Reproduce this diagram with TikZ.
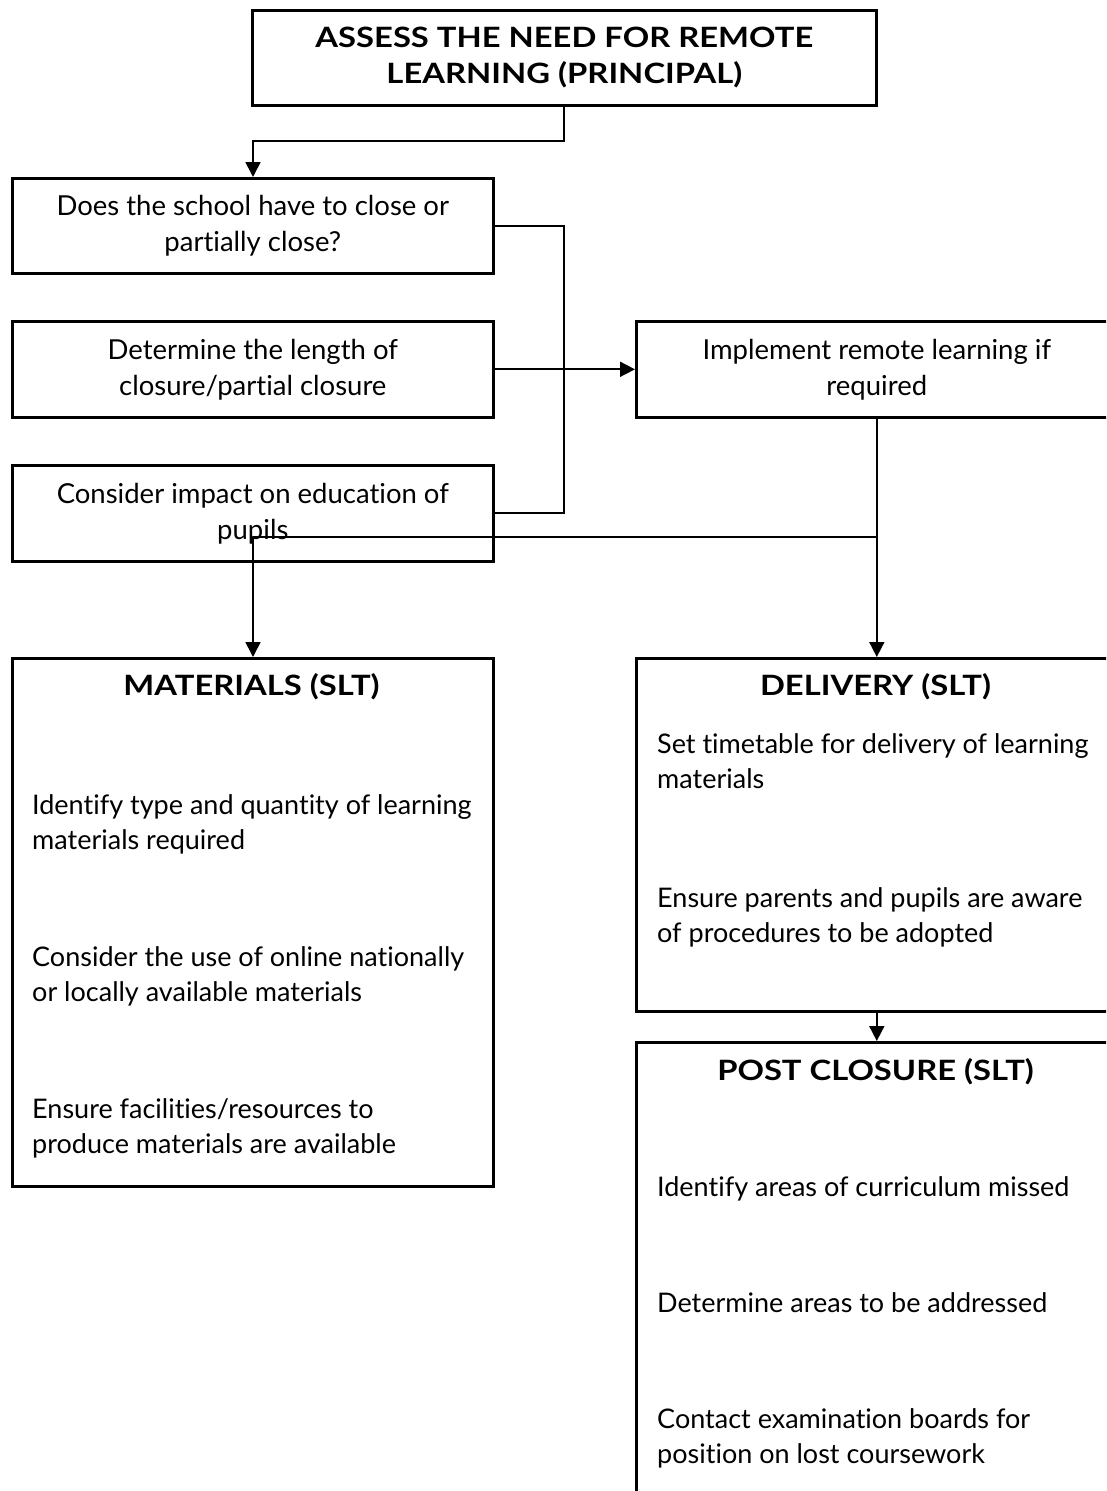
\documentclass[tikz,border=0pt]{standalone}
\usepackage{fontspec}
\setmainfont{Lato}[Ligatures={NoCommon}]
\newfontfamily\ttlfont[FakeStretch=1.17,Ligatures={NoCommon}]{Lato}
\usetikzlibrary{arrows.meta}
\begin{document}
\begin{tikzpicture}[x=1pt,y=-1pt,
  box/.style={draw,line width=2.6pt,rectangle,inner sep=0pt,anchor=north west,
    minimum width=481pt,minimum height=96pt,align=center,
    font=\fontsize{27.5}{36}\selectfont},
  conn/.style={line width=1.7pt},
  arr/.style={conn,-{Triangle[length=15pt,width=15pt]}},
  body/.style={font=\fontsize{27}{35}\selectfont,inner sep=0pt,anchor=base west,align=left},
  ttl/.style={font=\ttlfont\bfseries\fontsize{28}{36}\selectfont,inner sep=0pt,anchor=base}]
\useasboundingbox (0,0) rectangle (1106,1491);
\clip (0,0) rectangle (1106,1491);
% boxes
\node[box,minimum width=624pt,minimum height=95pt,font=\ttlfont\bfseries\fontsize{28}{36}\selectfont] (top) at (251,9)
  {ASSESS THE NEED FOR REMOTE\\LEARNING (PRINCIPAL)};
\node[box,minimum height=95pt] (b1) at (11,177) {Does the school have to close or\\partially close?};
\node[box] (b2) at (11,320) {Determine the length of\\closure/partial closure};
\node[box] (b3) at (11,464) {Consider impact on education of\\pupils};
\node[box] (impl) at (635,320) {Implement remote learning if\\required};
\node[box,minimum height=528pt] (mat) at (11,657) {};
\node[box,minimum height=353pt] (del) at (635,657) {};
\node[box,minimum height=500pt] (post) at (635,1041) {};
% box contents
\node[ttl] (matT) at (251.5,695) {MATERIALS (SLT)};
\node[body] (m1) at (32,849) {Identify type and quantity of learning\\materials required};
\node[body] (m2) at (32,1001) {Consider the use of online nationally\\or locally available materials};
\node[body] (m3) at (32,1153) {Ensure facilities/resources to\\produce materials are available};
\node[ttl] (delT) at (875.5,695) {DELIVERY (SLT)};
\node[body] (d1) at (657,788) {Set timetable for delivery of learning\\materials};
\node[body] (d2) at (657,942) {Ensure parents and pupils are aware\\of procedures to be adopted};
\node[ttl] (postT) at (875.5,1080) {POST CLOSURE (SLT)};
\node[body] (p1) at (657,1196) {Identify areas of curriculum missed};
\node[body] (p2) at (657,1312) {Determine areas to be addressed};
\node[body] (p3) at (657,1463) {Contact examination boards for\\position on lost coursework};
% connectors
\coordinate (c1) at (253,141);
\draw[arr] (top.south) |- (c1) -- (c1 |- b1.north);
\coordinate (jx) at (564,369);
\draw[conn] (b1.east) -| (jx) |- (b3.east);
\draw[arr] (b2.east) -- (impl.west);
\coordinate (sl) at (253,537);
\coordinate (sp) at (impl.south |- sl);
\draw[conn] (impl.south) -- (sp) -- (sl);
\draw[arr] (sl) -- (sl |- mat.north);
\draw[arr] (sp) -- (sp |- del.north);
\draw[arr] (del.south) -- (post.north);
\end{tikzpicture}
\end{document}
